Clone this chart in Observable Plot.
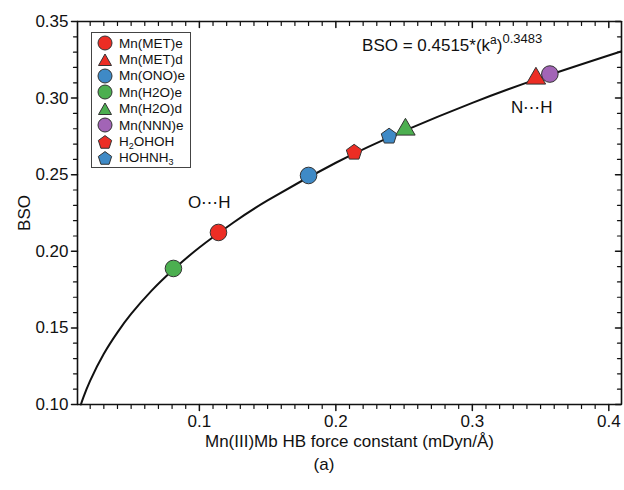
<!DOCTYPE html>
<html>
<head>
<meta charset="utf-8">
<script src="https://cdn.jsdelivr.net/npm/d3@7"></script>
<script src="https://cdn.jsdelivr.net/npm/@observablehq/plot@0.6"></script>
<style>
  body { margin: 0; background: white; }
  #wrap { position: relative; width: 624px; height: 490px; font-family: "Liberation Sans", Arial, sans-serif; color: #111; }
  #legend { position: absolute; left: 91px; top: 32px; width: 100px; height: 136px; border: 1px solid #444; background: white; box-sizing: border-box; padding-top: 2px; }
  .row { height: 16.4px; display: flex; align-items: center; font-size: 13.5px; white-space: nowrap; }
  .row svg { margin-left: 5px; margin-right: 6px; }
  .row sub { font-size: 9px; vertical-align: -3px; line-height: 0; }
  #caption { position: absolute; left: 300px; width: 48px; top: 455px; text-align: center; font-size: 17px; }
</style>
</head>
<body>
<div id="wrap">
  <div id="chart"></div>
  <div id="legend"></div>
  <div id="caption">(a)</div>
</div>
<script>
// ---- data ----
const names = ["Mn(MET)e", "Mn(MET)d", "Mn(ONO)e", "Mn(H2O)e", "Mn(H2O)d", "Mn(NNN)e", "H2OHOH", "HOHNH3"];
const legendLabels = ["Mn(MET)e", "Mn(MET)d", "Mn(ONO)e", "Mn(H2O)e", "Mn(H2O)d", "Mn(NNN)e", "H<sub>2</sub>OHOH", "HOHNH<sub>3</sub>"];
const shapes = ["circle", "triangle", "circle", "circle", "triangle", "circle", "pentagon", "pentagon"];
const colors = ["#ec2d24", "#ec2d24", "#3f8ac6", "#4caf50", "#4caf50", "#a264b6", "#ec2d24", "#3f8ac6"];
const forceK = [0.114, 0.3466, 0.180, 0.081, 0.251, 0.3568, 0.2134, 0.239];
const bso = [0.2123, 0.3128, 0.2495, 0.1888, 0.2795, 0.3157, 0.2645, 0.275];

// fitted curve BSO = 0.4515*(k^a)^0.3483
const fitK = [0.0132, 0.015, 0.02, 0.03, 0.04, 0.05, 0.065, 0.08, 0.1, 0.125, 0.15, 0.2, 0.25, 0.3, 0.35, 0.409];
const fitBSO = [0.1000, 0.1046, 0.1156, 0.1331, 0.1471, 0.1591, 0.1743, 0.1873, 0.2025, 0.2188, 0.2332, 0.2578, 0.2786, 0.2969, 0.3132, 0.3305];

const xMajor = [0.1, 0.2, 0.3, 0.4];
const xMinor = [0.02, 0.03, 0.04, 0.05, 0.06, 0.07, 0.08, 0.09,
                0.11, 0.12, 0.13, 0.14, 0.15, 0.16, 0.17, 0.18, 0.19,
                0.21, 0.22, 0.23, 0.24, 0.25, 0.26, 0.27, 0.28, 0.29,
                0.31, 0.32, 0.33, 0.34, 0.35, 0.36, 0.37, 0.38, 0.39];
const yMajor = [0.10, 0.15, 0.20, 0.25, 0.30, 0.35];
const yMinor = [0.11, 0.12, 0.13, 0.14, 0.16, 0.17, 0.18, 0.19, 0.21, 0.22, 0.23, 0.24,
                0.26, 0.27, 0.28, 0.29, 0.31, 0.32, 0.33, 0.34];

const annotations = ["O\u22EFH", "N\u22EFH"];
const annK = [0.1073, 0.3436];
const annB = [0.2319, 0.2939];
const equation = "BSO = 0.4515*(ka)0.3483";
const eqK = [0.2192];
const eqB = [0.3343];

const xDomain = [0.0107, 0.4093];
const yDomain = [0.10, 0.35];

// ---- layout ----
const W = 624, H = 450, mL = 77, mR = 3, mT = 21, mB = 46;
const pxX = (xDomain[1] - xDomain[0]) / (W - mL - mR); // data units per pixel
const pxY = (yDomain[1] - yDomain[0]) / (H - mT - mB);

// ---- build ----
const points = names.map((n, i) => ({name: n, shape: shapes[i], color: colors[i], k: forceK[i], b: bso[i]}));
const fit = fitK.map((k, i) => ({k, b: fitBSO[i]}));

const pentagon = {
  draw(ctx, size) {
    const R = Math.sqrt(size / Math.PI);
    for (let i = 0; i < 5; i++) {
      const a = -Math.PI / 2 + i * 2 * Math.PI / 5;
      const x = R * Math.cos(a), y = R * Math.sin(a);
      if (i === 0) ctx.moveTo(x, y); else ctx.lineTo(x, y);
    }
    ctx.closePath();
  }
};

const dots = (shape, symbol, r) => Plot.dot(points.filter(d => d.shape === shape), {
  x: "k", y: "b", fill: "color", stroke: "#333", strokeWidth: 1, r, symbol
});

// tick segments as two-point lines (toward the lower / left side of each axis line)
let segId = 0;
const xSeg = (vals, yv, len) => vals.flatMap(v => { const id = segId++; return [{x: v, y: yv - len * pxY, id}, {x: v, y: yv, id}]; });
const ySeg = (vals, xv, len) => vals.flatMap(v => { const id = segId++; return [{x: xv - len * pxX, y: v, id}, {x: xv, y: v, id}]; });
const majorSegs = [...xSeg(xMajor, yDomain[0], 6), ...xSeg(xMajor, yDomain[1], 6), ...ySeg(yMajor, xDomain[0], 6), ...ySeg(yMajor, xDomain[1], 6)];
const minorSegs = [...xSeg(xMinor, yDomain[0], 4), ...xSeg(xMinor, yDomain[1], 4), ...ySeg(yMinor, xDomain[0], 4), ...ySeg(yMinor, xDomain[1], 4)];

const chart = Plot.plot({
  width: W,
  height: H,
  marginLeft: mL,
  marginRight: mR,
  marginTop: mT,
  marginBottom: mB,
  style: {fontFamily: "'Liberation Sans', Arial, sans-serif", fontSize: "17px", color: "#111", background: "white", overflow: "visible"},
  x: {domain: xDomain},
  y: {domain: yDomain},
  color: {type: "identity"},
  marks: [
    Plot.axisX(xMajor, {tickSize: 0, tickPadding: 10, tickFormat: d3.format(".1f"),
      label: "Mn(III)Mb HB force constant (mDyn/Å)", labelAnchor: "center", labelArrow: "none", labelOffset: 42}),
    Plot.axisY(yMajor, {tickSize: 0, tickPadding: 9, tickFormat: d3.format(".2f"),
      label: "BSO", labelAnchor: "center", labelArrow: "none", labelOffset: 60}),
    Plot.line(majorSegs, {x: "x", y: "y", z: "id", stroke: "#111", strokeWidth: 1.5}),
    Plot.line(minorSegs, {x: "x", y: "y", z: "id", stroke: "#111", strokeWidth: 1.2}),
    // frame drawn as four rules
    Plot.ruleX(xDomain, {x: d => d, stroke: "#111", strokeWidth: 1.6}),
    Plot.ruleY(yDomain, {y: d => d, stroke: "#111", strokeWidth: 1.6}),
    Plot.line(fit, {x: "k", y: "b", curve: "natural", stroke: "#111", strokeWidth: 2}),
    dots("pentagon", pentagon, 8.2),
    dots("triangle", "triangle", 7.2),
    dots("circle", "circle", 8.3),
    Plot.text(annotations, {x: (d, i) => annK[i], y: (d, i) => annB[i], text: d => d, fontSize: 17, fill: "#111"}),
    Plot.text([equation], {x: eqK, y: eqB, text: d => d, textAnchor: "start", fontSize: 17, fill: "#111"})
  ]
});
document.getElementById("chart").appendChild(chart);

// superscripts in the equation
for (const t of chart.querySelectorAll("text")) {
  if (t.textContent === equation) {
    t.innerHTML = 'BSO = 0.4515*(k<tspan dy="-7" font-size="12">a</tspan><tspan dy="7">)</tspan><tspan dy="-8" font-size="13">0.3483</tspan>';
  }
}

// legend
const legend = document.getElementById("legend");
names.forEach((n, i) => {
  const row = document.createElement("div");
  row.className = "row";
  let shape;
  if (shapes[i] === "circle") shape = `<circle cx="8" cy="8" r="7" fill="${colors[i]}" stroke="#333" stroke-width="1"/>`;
  else if (shapes[i] === "triangle") shape = `<path d="M8,2 L14.5,13.5 L1.5,13.5 Z" fill="${colors[i]}" stroke="#333" stroke-width="1"/>`;
  else {
    const pts = d3.range(5).map(j => { const a = -Math.PI / 2 + j * 2 * Math.PI / 5; return [8 + 7 * Math.cos(a), 8.6 + 7 * Math.sin(a)]; });
    shape = `<path d="M${pts.map(p => p.join(",")).join("L")}Z" fill="${colors[i]}" stroke="#333" stroke-width="1"/>`;
  }
  row.innerHTML = `<svg width="16" height="16" viewBox="0 0 16 16">${shape}</svg><span>${legendLabels[i]}</span>`;
  legend.appendChild(row);
});
</script>
</body>
</html>
